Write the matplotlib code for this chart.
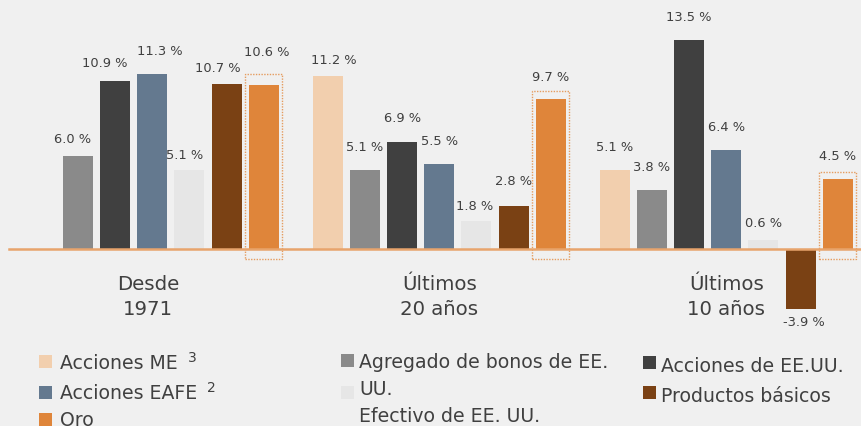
import numpy as np
import matplotlib
matplotlib.use("Agg")
import matplotlib.pyplot as plt
from matplotlib.patches import Rectangle

# ---------------- data ----------------
periods = ["Desde\n1971", "Últimos\n20 años", "Últimos\n10 años"]
series = ["Acciones ME", "Agregado de bonos de EE. UU.", "Acciones de EE.UU.",
          "Acciones EAFE", "Efectivo de EE. UU.", "Productos básicos", "Oro"]
acciones_me = [np.nan, 11.2, 5.1]
bonos = [6.0, 5.1, 3.8]
acciones_eeuu = [10.9, 6.9, 13.5]
acciones_eafe = [11.3, 5.5, 6.4]
efectivo = [5.1, 1.8, 0.6]
productos = [10.7, 2.8, -3.9]
oro = [10.6, 9.7, 4.5]
values = [acciones_me, bonos, acciones_eeuu, acciones_eafe, efectivo, productos, oro]

# ---------------- styles / positions ----------------
colors = ["#f2cfae", "#8a8a8a", "#404040", "#64798f", "#e6e6e6", "#7a4114", "#df853a"]
bg = "#f0f0f0"
txt = "#404040"
# label offsets (pixels): vertical distance of label centre from bar end, horizontal shift
label_dy = [[0, 16, 24], [18, 24, 24], [18, 25, 24], [24, 24, 24],
            [16, 16, 17], [16, 25, 12], [34, 23, 24]]
label_dx = [[0, 6, 0], [-5, 0, 0], [-10, 0, 0], [8, 0, 0],
            [-5, -2, 0], [-9, 0, 3], [3, 0, 0]]
box_top_pad = [11, 8, 7]
cat_dx = [-4, 0, 0]

W, H = 862, 427
fig = plt.figure(figsize=(W / 100, H / 100), dpi=100)
fig.patch.set_facecolor(bg)
ax = fig.add_axes([0, 0, 1, 1])
ax.set_facecolor(bg)
ax.axis("off")

pitch_px = 37.17
ypx = 15.45
x0_px = 40.8
zero_px = 250
group_step = 7.72
ax.set_xlim(-x0_px / pitch_px, (W - x0_px) / pitch_px)
ax.set_ylim(-(H - zero_px) / ypx, zero_px / ypx)

bw = 30 / pitch_px
n_s = len(series)
for si, (vals, col) in enumerate(zip(values, colors)):
    xs = np.arange(len(periods)) * group_step + si
    v = np.array(vals, dtype=float)
    ok = ~np.isnan(v)
    ax.bar(xs[ok], v[ok], width=bw, color=col, zorder=2)
    for gi in range(len(periods)):
        if not ok[gi]:
            continue
        val = v[gi]
        sign = 1 if val >= 0 else -1
        ax.annotate(f"{val:.1f} %", (xs[gi], val),
                    xytext=(label_dx[si][gi], sign * label_dy[si][gi]),
                    textcoords="offset pixels", ha="center", va="center",
                    fontsize=9.4, color=txt, zorder=4)

# dotted boxes around Oro bars
gi_series = n_s - 1
for gi, val in enumerate(oro):
    xc = gi * group_step + gi_series
    left = xc - bw / 2 - 4 / pitch_px
    width = bw + 7 / pitch_px
    bottom = -10 / ypx
    top = val + box_top_pad[gi] / ypx
    ax.add_patch(Rectangle((left, bottom), width, top - bottom, fill=False,
                           edgecolor="#e59c5f", lw=1.0, ls=(0, (1, 1)), zorder=3))

# zero line
ax.axhline(0, xmin=9 / W, xmax=1, color="#e8a46c", lw=1.8, zorder=3)

# category labels
for gi, p in enumerate(periods):
    xc = gi * group_step + (n_s - 1) / 2
    ax.annotate(p, (xc, 0), xytext=(cat_dx[gi], -47), textcoords="offset pixels",
                ha="center", va="center", fontsize=14.2, color=txt,
                linespacing=1.35)

# ---------------- legend (manual) ----------------
def fx(px):
    return px / W

def fy(py):
    return 1 - py / H

legend_items = [
    # (text, superscript, color index, square x, square top, text x, baseline)
    ("Acciones ME", "3", 0, 39, 356, 60, 369),
    ("Acciones EAFE", "2", 3, 39, 387, 60, 399),
    ("Oro", "", 6, 39, 414, 60, 426),
    ("Agregado de bonos de EE.", "", 1, 341, 355, 359, 368),
    ("UU.", "", 4, 341, 387, 359, 395),
    ("Efectivo de EE. UU.", "", None, 341, 0, 359, 422),
    ("Acciones de EE.UU.", "", 2, 643, 357, 661, 372),
    ("Productos básicos", "", 5, 643, 387, 661, 402),
]
renderer = fig.canvas.get_renderer()
for text, sup, ci, sx, sy, tx, tb in legend_items:
    if ci is not None:
        fig.add_artist(Rectangle((fx(sx), fy(sy + 13)), 13 / W, 13 / H,
                                 transform=fig.transFigure, color=colors[ci],
                                 lw=0))
    t = fig.text(fx(tx), fy(tb), text, ha="left", va="baseline", fontsize=13.6,
                 color=txt)
    if sup:
        bb = t.get_window_extent(renderer=renderer)
        fig.text(fx(bb.x1 + 10), fy(tb - 7), sup, ha="left", va="baseline",
                 fontsize=10, color=txt)

fig.savefig("out.png", dpi=100, facecolor=bg)
